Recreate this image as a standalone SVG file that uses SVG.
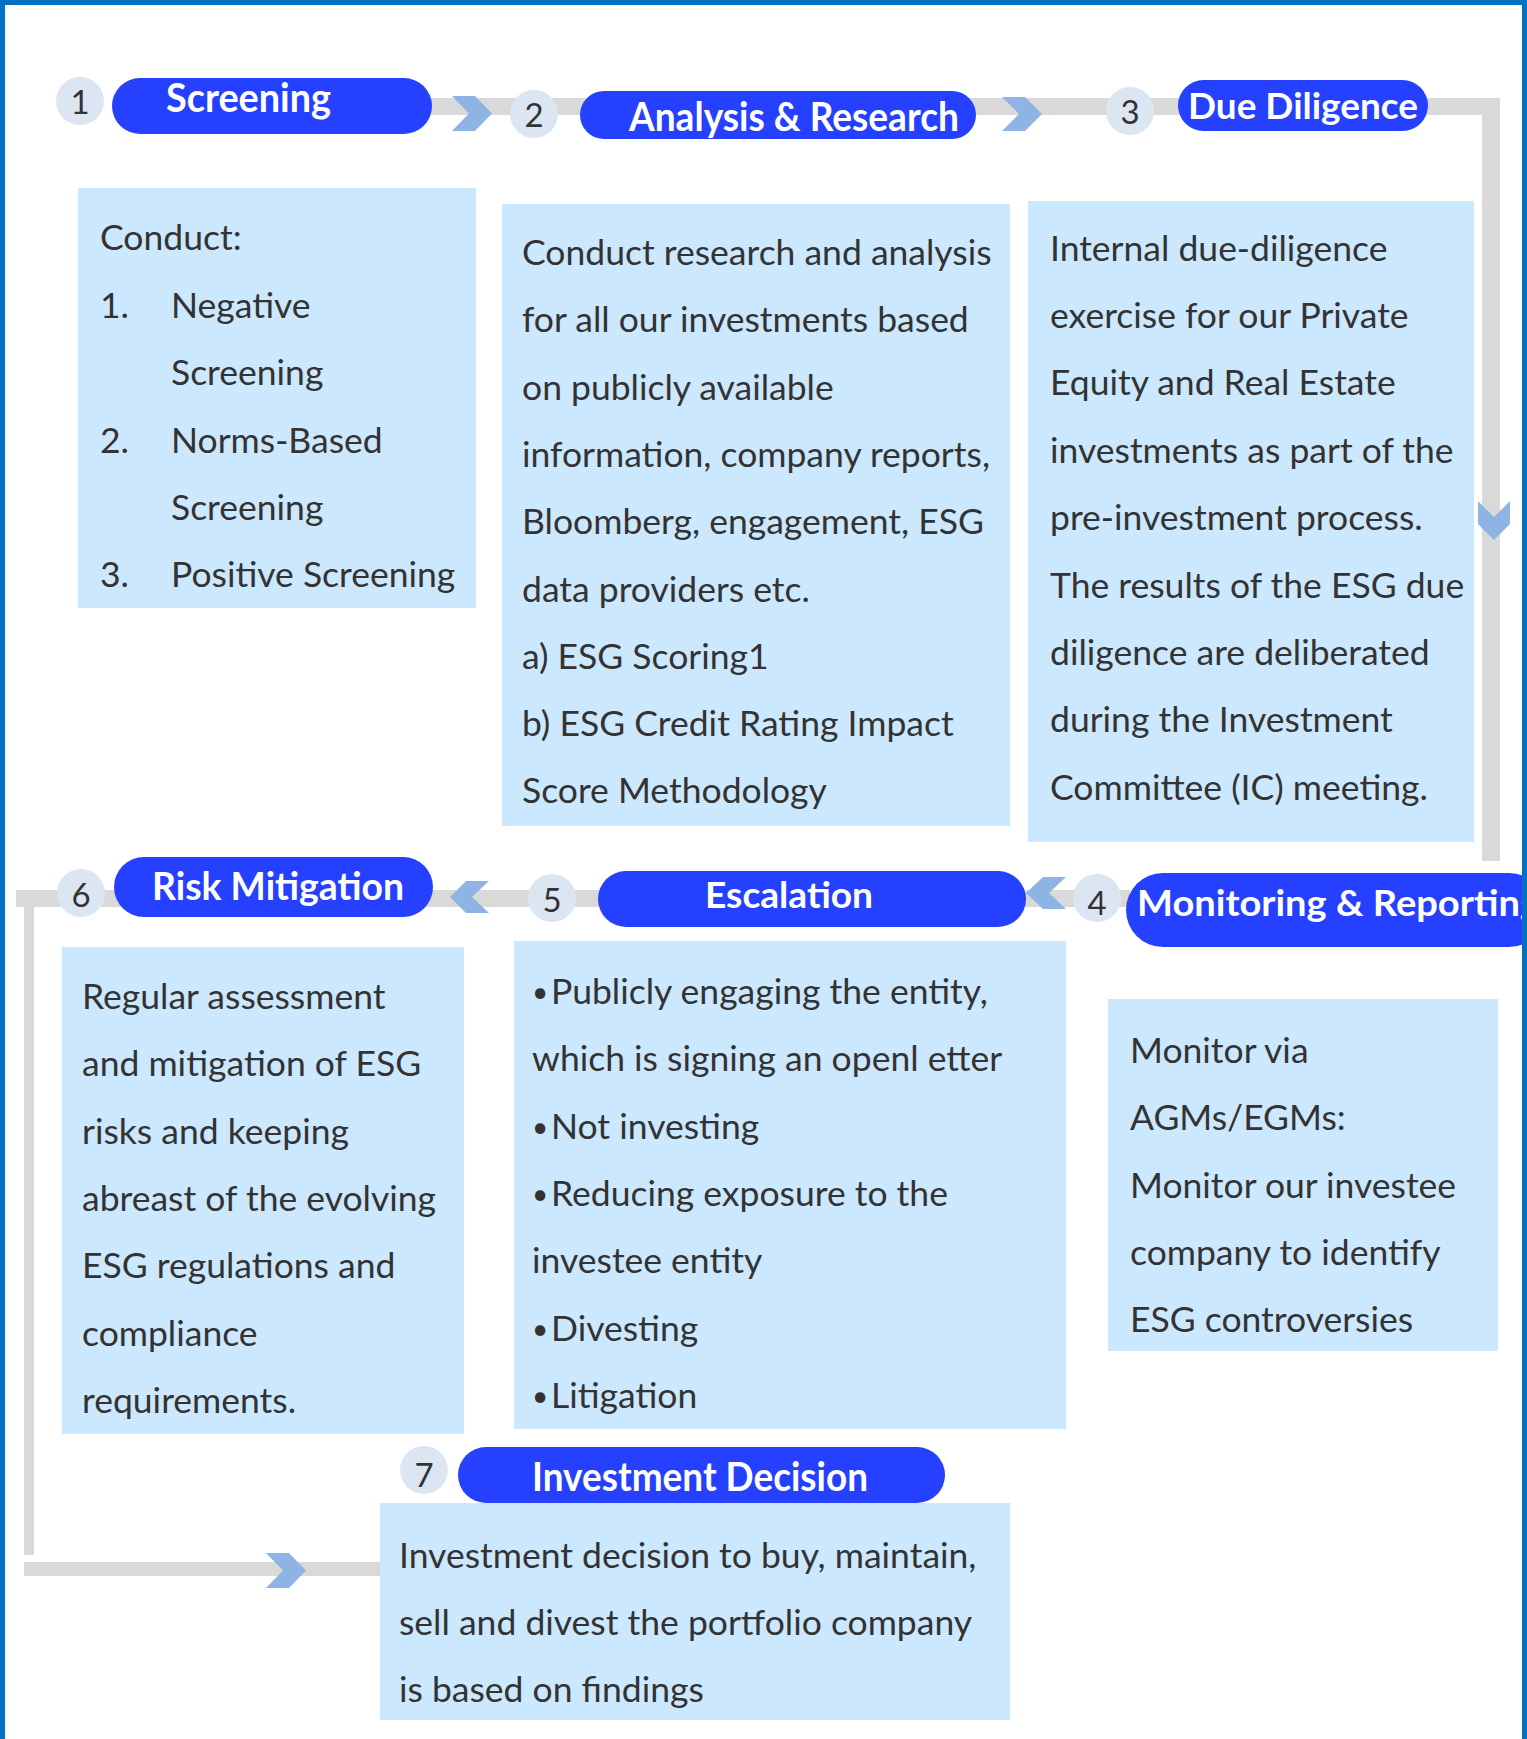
<svg xmlns="http://www.w3.org/2000/svg" width="1527" height="1739" viewBox="0 0 1527 1739">
<style>
.line{fill:#D9D9D9}
.chev{fill:#8EB4E3}
.pill{fill:#2540FF}
.circ{fill:#DCE6F2}
.num{font-family:Lato,"Liberation Sans",sans-serif;font-size:33px;fill:#333;text-anchor:middle}
.head{font-family:Lato,"Liberation Sans",sans-serif;font-weight:700;fill:#fff}
.box{fill:#CCE8FF}
.body{font-family:Lato,"Liberation Sans",sans-serif;font-size:35.5px;fill:#333}
.bul{font-family:Lato,"Liberation Sans",sans-serif;font-size:28px;fill:#333}
</style>
<rect width="1527" height="1739" fill="#fff"/>
<g id="connectors">
<rect class="line" x="400" y="98" width="1100" height="17"/>
<rect class="line" x="1482" y="98" width="18" height="763"/>
<rect class="line" x="16" y="890" width="1114" height="17"/>
<rect class="line" x="24" y="907" width="10" height="648"/>
<rect class="line" x="24" y="1562" width="356" height="14"/>
<polygon class="chev" points="452,96 475,96 492,113.5 475,131 452,131 469,113.5"/>
<polygon class="chev" points="1002,97 1025,97 1042,114 1025,131 1002,131 1019,114"/>
<polygon class="chev" points="1478,501 1494,517 1510,501 1510,524 1494,540 1478,524"/>
<polygon class="chev" points="1066,877 1049,893 1066,909 1043,909 1026,893 1043,877"/>
<polygon class="chev" points="489,881 472,897 489,913 466,913 450,897 466,881"/>
<polygon class="chev" points="266,1553 289,1553 306,1570.5 289,1588 266,1588 283,1570.5"/>
</g>
<g id="step1">
<circle class="circ" cx="80" cy="101" r="24"/>
<text class="num" x="80" y="114">1</text>
<rect class="pill" x="112" y="78" width="320" height="56" rx="28"/>
<text class="head" x="166" y="112" font-size="40" textLength="165" lengthAdjust="spacingAndGlyphs">Screening</text>
<rect class="box" x="78" y="188" width="398" height="420"/>
<text class="body" x="100" y="250">Conduct:</text>
<text class="body" x="100" y="318">1.</text>
<text class="body" x="171" y="318">Negative</text>
<text class="body" x="171" y="385">Screening</text>
<text class="body" x="100" y="453">2.</text>
<text class="body" x="171" y="453">Norms-Based</text>
<text class="body" x="171" y="520">Screening</text>
<text class="body" x="100" y="587">3.</text>
<text class="body" x="171" y="587">Positive Screening</text>
</g>
<g id="step2">
<circle class="circ" cx="534" cy="114" r="24"/>
<text class="num" x="534" y="127">2</text>
<rect class="pill" x="580" y="91" width="396" height="48" rx="24"/>
<text class="head" x="629" y="131" font-size="41" textLength="330" lengthAdjust="spacingAndGlyphs">Analysis &amp; Research</text>
<rect class="box" x="502" y="204" width="508" height="622"/>
<text class="body" x="522" y="265">Conduct research and analysis</text>
<text class="body" x="522" y="332">for all our investments based</text>
<text class="body" x="522" y="400">on publicly available</text>
<text class="body" x="522" y="467">information, company reports,</text>
<text class="body" x="522" y="534">Bloomberg, engagement, ESG</text>
<text class="body" x="522" y="602">data providers etc.</text>
<text class="body" x="522" y="669">a) ESG Scoring1</text>
<text class="body" x="522" y="736">b) ESG Credit Rating Impact</text>
<text class="body" x="522" y="803">Score Methodology</text>
</g>
<g id="step3">
<circle class="circ" cx="1130" cy="111" r="24"/>
<text class="num" x="1130" y="124">3</text>
<rect class="pill" x="1178" y="80" width="250" height="51" rx="25.5"/>
<text class="head" x="1188" y="119" font-size="37" textLength="230" lengthAdjust="spacingAndGlyphs">Due Diligence</text>
<rect class="box" x="1028" y="201" width="446" height="641"/>
<text class="body" x="1050" y="261">Internal due-diligence</text>
<text class="body" x="1050" y="328">exercise for our Private</text>
<text class="body" x="1050" y="395">Equity and Real Estate</text>
<text class="body" x="1050" y="463">investments as part of the</text>
<text class="body" x="1050" y="530">pre-investment process.</text>
<text class="body" x="1050" y="598">The results of the ESG due</text>
<text class="body" x="1050" y="665">diligence are deliberated</text>
<text class="body" x="1050" y="732">during the Investment</text>
<text class="body" x="1050" y="800">Committee (IC) meeting.</text>
</g>
<g id="step4">
<circle class="circ" cx="1097" cy="898" r="24"/>
<text class="num" x="1097" y="915">4</text>
<rect class="pill" x="1126" y="873" width="420" height="74" rx="37"/>
<text class="head" x="1137" y="916" font-size="36" textLength="403" lengthAdjust="spacingAndGlyphs">Monitoring &amp; Reporting</text>
<rect class="box" x="1108" y="999" width="390" height="352"/>
<text class="body" x="1130" y="1063">Monitor via</text>
<text class="body" x="1130" y="1130">AGMs/EGMs:</text>
<text class="body" x="1130" y="1198">Monitor our investee</text>
<text class="body" x="1130" y="1265">company to identify</text>
<text class="body" x="1130" y="1332">ESG controversies</text>
</g>
<g id="step5">
<circle class="circ" cx="552" cy="898" r="24"/>
<text class="num" x="552" y="912">5</text>
<rect class="pill" x="598" y="871" width="428" height="56" rx="28"/>
<text class="head" x="705" y="908" font-size="37" textLength="168" lengthAdjust="spacingAndGlyphs">Escalation</text>
<rect class="box" x="514" y="941" width="552" height="488"/>
<text class="bul" x="532" y="1002">•</text>
<text class="body" x="551" y="1004">Publicly engaging the entity,</text>
<text class="body" x="532" y="1071">which is signing an openl etter</text>
<text class="bul" x="532" y="1137">•</text>
<text class="body" x="551" y="1139">Not investing</text>
<text class="bul" x="532" y="1204">•</text>
<text class="body" x="551" y="1206">Reducing exposure to the</text>
<text class="body" x="532" y="1273">investee entity</text>
<text class="bul" x="532" y="1339">•</text>
<text class="body" x="551" y="1341">Divesting</text>
<text class="bul" x="532" y="1406">•</text>
<text class="body" x="551" y="1408">Litigation</text>
</g>
<g id="step6">
<circle class="circ" cx="81" cy="893" r="24"/>
<text class="num" x="81" y="907">6</text>
<rect class="pill" x="114" y="857" width="319" height="60" rx="30"/>
<text class="head" x="152" y="900" font-size="39" textLength="252" lengthAdjust="spacingAndGlyphs">Risk Mitigation</text>
<rect class="box" x="62" y="947" width="402" height="487"/>
<text class="body" x="82" y="1009">Regular assessment</text>
<text class="body" x="82" y="1076">and mitigation of ESG</text>
<text class="body" x="82" y="1144">risks and keeping</text>
<text class="body" x="82" y="1211">abreast of the evolving</text>
<text class="body" x="82" y="1278">ESG regulations and</text>
<text class="body" x="82" y="1346">compliance</text>
<text class="body" x="82" y="1413">requirements.</text>
</g>
<g id="step7">
<circle class="circ" cx="424" cy="1470" r="24"/>
<text class="num" x="424" y="1487">7</text>
<rect class="pill" x="458" y="1447" width="487" height="56" rx="28"/>
<text class="head" x="532" y="1491" font-size="40" textLength="336" lengthAdjust="spacingAndGlyphs">Investment Decision</text>
<rect class="box" x="380" y="1503" width="630" height="217"/>
<text class="body" x="399" y="1568" font-size="36.3">Investment decision to buy, maintain,</text>
<text class="body" x="399" y="1635" font-size="36.3">sell and divest the portfolio company</text>
<text class="body" x="399" y="1702" font-size="36.3">is based on findings</text>
</g>
<rect x="2.5" y="2.5" width="1522" height="1800" fill="none" stroke="#0070C0" stroke-width="5"/>
</svg>
